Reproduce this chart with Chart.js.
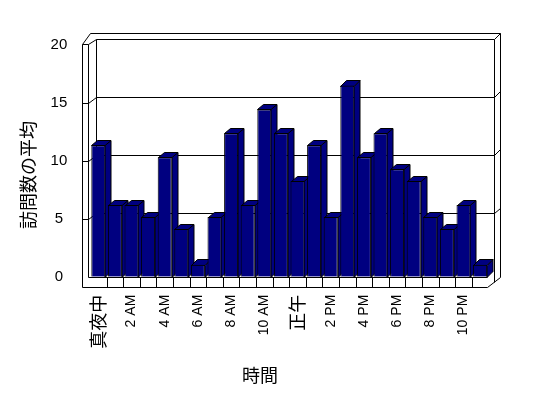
<!DOCTYPE html>
<html>
<head>
<meta charset="utf-8">
<script src="https://cdn.jsdelivr.net/npm/chart.js@4.4.1/dist/chart.umd.min.js"></script>
<style>
html,body{margin:0;padding:0;background:#fff;}
#wrap{width:548px;height:398px;}
</style>
</head>
<body>
<div id="wrap"><canvas id="c" width="548" height="398"></canvas></div>
<script>
// ---- data ----
const hours = ['真夜中','1 AM','2 AM','3 AM','4 AM','5 AM','6 AM','7 AM','8 AM','9 AM','10 AM','11 AM',
               '正午','1 PM','2 PM','3 PM','4 PM','5 PM','6 PM','7 PM','8 PM','9 PM','10 PM','11 PM'];
const avgVisits = [11, 6, 6, 5, 10, 4, 1, 5, 12, 6, 14, 12, 8, 11, 5, 16, 10, 12, 9, 8, 5, 4, 6, 1];
const yTickValues = [0, 5, 10, 15, 20];
const xTitle = '時間';
const yTitle = '訪問数の平均';

const NAVY = '#000080';
const LATIN = '"Liberation Sans", Arial, sans-serif';
const CJK = '"Noto Sans CJK JP", sans-serif';
const isCJK = s => /[^\x00-\x7f]/.test(s || '');

function P(v){ return Math.round(v) + 0.5; }

const box3d = {
  id: 'box3d',
  beforeDatasetsDraw(chart) {
    const ctx = chart.ctx, ca = chart.chartArea;
    const yT = chart.scales.yTicks;
    const L = ca.left, R = ca.right, B = ca.bottom;
    const frontLeft = L - 8.3, wallInner = L - 2, backLeft = L + 5.7;
    const backRight = R + 5.6, outerRight = R + 11.6;
    const yB = v => yT.getPixelForValue(v) - 5.4;
    const top20 = yB(20), outerTop = top20 - 5.7;
    const floorR = R - 1.4, floorB = B + 10;
    ctx.save();
    ctx.strokeStyle = '#000';
    ctx.lineWidth = 1;
    const line = pts => { ctx.beginPath(); ctx.moveTo(P(pts[0][0]), P(pts[0][1])); for (let i = 1; i < pts.length; i++) ctx.lineTo(P(pts[i][0]), P(pts[i][1])); ctx.stroke(); };
    line([[frontLeft, yT.getPixelForValue(20)], [frontLeft + 8.3, outerTop], [outerRight, outerTop], [outerRight, B], [floorR, floorB], [frontLeft, floorB], [frontLeft, yT.getPixelForValue(20)]]);
    line([[frontLeft, yT.getPixelForValue(20)], [wallInner, yT.getPixelForValue(20)], [backLeft, top20], [backRight, top20], [outerRight, outerTop]]);
    line([[wallInner, yT.getPixelForValue(20)], [wallInner, B]]);
    line([[backLeft, top20], [backLeft, yB(0)]]);
    line([[backRight, top20], [backRight, B + 5.3]]);
    line([[wallInner, B], [floorR, B]]);
    yTickValues.forEach(v => {
      if (v === 0 || v === 20) return;
      const yf = yT.getPixelForValue(v), yb = yB(v);
      line([[frontLeft, yf], [wallInner, yf], [backLeft, yb], [backRight, yb], [outerRight, yb - 5.7]]);
    });
    const n = hours.length, cw = (R - L) / n;
    for (let i = 1; i < n; i++) line([[L + i * cw, B], [L + i * cw, floorB]]);
    const meta = chart.getDatasetMeta(0);
    const dx = 6, dy = -5.3;
    meta.data.forEach(bar => {
      const l = bar.x - bar.width / 2, r = bar.x + bar.width / 2, t = bar.y, b = bar.base;
      ctx.fillStyle = NAVY;
      ctx.beginPath();
      ctx.moveTo(P(r) - 0.5, P(t)); ctx.lineTo(P(r + dx) - 0.5, P(t + dy)); ctx.lineTo(P(r + dx) - 0.5, P(b + dy)); ctx.lineTo(P(r) - 0.5, P(b));
      ctx.closePath(); ctx.fill(); ctx.stroke();
      ctx.beginPath();
      ctx.moveTo(P(l), P(t)); ctx.lineTo(P(l + dx), P(t + dy)); ctx.lineTo(P(r + dx) - 0.5, P(t + dy)); ctx.lineTo(P(r) - 0.5, P(t));
      ctx.closePath(); ctx.fill(); ctx.stroke();
    });
    ctx.restore();
  },
  afterDraw(chart) {
    const ctx = chart.ctx;
    ctx.save();
    ctx.fillStyle = '#000';
    ctx.font = '18px ' + CJK;
    ctx.textAlign = 'center';
    ctx.textBaseline = 'middle';
    ctx.fillText(xTitle, 260, 375);
    ctx.translate(28, 175);
    ctx.rotate(-Math.PI / 2);
    ctx.fillText(yTitle, 0, 0);
    ctx.restore();
  }
};

new Chart(document.getElementById('c'), {
  type: 'bar',
  data: {
    labels: hours,
    datasets: [{
      data: avgVisits,
      yAxisID: 'y',
      backgroundColor: NAVY,
      borderColor: '#000',
      borderWidth: 1,
      barPercentage: 0.843,
      categoryPercentage: 1
    }]
  },
  options: {
    responsive: false,
    animation: false,
    devicePixelRatio: 1,
    layout: { padding: { top: 37.7, right: 59.6, left: 0, bottom: 0 } },
    plugins: { legend: { display: false }, tooltip: { enabled: false } },
    scales: {
      x: {
        grid: { display: false, drawTicks: false },
        border: { display: false },
        ticks: {
          autoSkip: false, maxRotation: 90, minRotation: 90, padding: 18,
          color: '#000',
          callback: (v, i) => (i % 2 === 0 ? hours[i] : ''),
          font: c => isCJK(c.tick && c.tick.label) ? { family: CJK, size: 18 } : { family: LATIN, size: 14 }
        },
        afterFit: s => { s.height = 398 - 276.7; }
      },
      y: { display: false, min: 0, max: 20 },
      yTicks: {
        position: 'left', min: 0, max: 20.58,
        grid: { display: false, drawTicks: false },
        border: { display: false },
        ticks: {
          stepSize: 5, includeBounds: false, padding: 22.7, crossAlign: 'center',
          color: '#000', font: { family: LATIN, size: 15 }
        },
        afterBuildTicks: s => { s.ticks = yTickValues.map(v => ({ value: v })); },
        afterFit: s => { s.width = 90; }
      }
    }
  },
  plugins: [box3d]
});
</script>
</body>
</html>
